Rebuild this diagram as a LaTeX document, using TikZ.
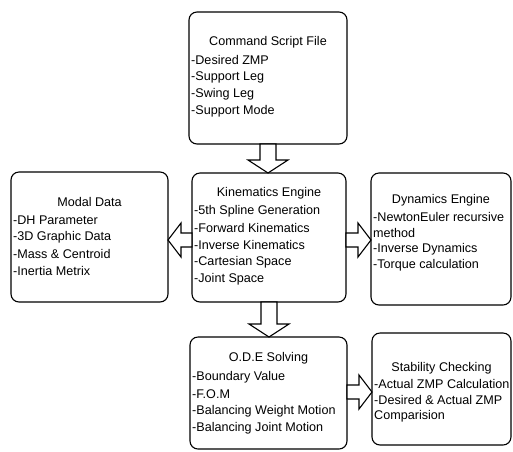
\documentclass[tikz,border=0pt]{standalone}
\usepackage{fontspec}
\setmainfont{Liberation Sans}
\usetikzlibrary{calc}
\begin{document}
\begin{tikzpicture}[x=1pt,y=-1pt,
  box/.style={draw, rounded corners=8pt, line width=1.1pt, inner sep=0pt, outer sep=0pt, anchor=north west},
  ttl/.style={font=\fontsize{12.6}{15}\selectfont, inner sep=0pt, anchor=center},
  itm/.style={font=\fontsize{12.6}{15}\selectfont, inner sep=0pt, anchor=west},
  blk/.style={draw, fill=white, line width=1.1pt, line join=miter}]
\useasboundingbox (0,0) rectangle (513,451);
% boxes
\node[box, minimum width=158pt, minimum height=132pt] (top) at (189,12) {};
\node[box, minimum width=157pt, minimum height=130pt] (model) at (11,172) {};
\node[box, minimum width=154pt, minimum height=129pt] (kin) at (192,173) {};
\node[box, minimum width=140pt, minimum height=132pt] (dyn) at (371,173) {};
\node[box, minimum width=157pt, minimum height=112pt] (ode) at (190,337) {};
\node[box, minimum width=139pt, minimum height=112pt] (stab) at (372,333) {};
% top texts
\node[ttl] (topt) at ($(top.north)+(0,30)$) {Command Script File};
\node[itm] (top1) at (191,60) {-Desired ZMP};
\node[itm] (top2) at (191,77) {-Support Leg};
\node[itm] (top3) at (191,94) {-Swing Leg};
\node[itm] (top4) at (191,111) {-Support Mode};
% model texts
\node[ttl] (modelt) at ($(model.north)+(0,30)$) {Modal Data};
\node[itm] (model1) at (13,220) {-DH Parameter};
\node[itm] (model2) at (13,237) {-3D Graphic Data};
\node[itm] (model3) at (13,254) {-Mass \& Centroid};
\node[itm] (model4) at (13,271) {-Inertia Metrix};
% kinematics texts
\node[ttl] (kint) at ($(kin.north)+(0,20)$) {Kinematics Engine};
\node[itm] (kin1) at (194,211) {-5th Spline Generation};
\node[itm] (kin2) at (194,228) {-Forward Kinematics};
\node[itm] (kin3) at (194,245) {-Inverse Kinematics};
\node[itm] (kin4) at (194,262) {-Cartesian Space};
\node[itm] (kin5) at (194,279) {-Joint Space};
% dynamics texts
\node[ttl] (dynt) at ($(dyn.north)+(0,27)$) {Dynamics Engine};
\node[itm] (dyn1) at (373,217) {-NewtonEuler recursive};
\node[itm] (dyn2) at (373,233) {method};
\node[itm] (dyn3) at (373,249) {-Inverse Dynamics};
\node[itm] (dyn4) at (373,265) {-Torque calculation};
% ode texts
\node[ttl] (odet) at ($(ode.north)+(0,21)$) {O.D.E Solving};
\node[itm] (ode1) at (192,377) {-Boundary Value};
\node[itm] (ode2) at (192,394) {-F.O.M};
\node[itm] (ode3) at (192,411) {-Balancing Weight Motion};
\node[itm] (ode4) at (192,428) {-Balancing Joint Motion};
% stability texts
\node[ttl] (stabt) at ($(stab.north)+(0,35)$) {Stability Checking};
\node[itm] (stab1) at (374,384) {-Actual ZMP Calculation};
\node[itm] (stab2) at (374,400) {-Desired \& Actual ZMP};
\node[itm] (stab3) at (374,416) {Comparision};
% block arrows
\coordinate (d1a) at (top.south);
\coordinate (d1b) at (top.south |- kin.north);
\draw[blk] ($(d1a)+(-8,0)$) -- ($(d1a)+(8,0)$) -- ($(d1b)+(8,-13)$) -- ($(d1b)+(20,-13)$) -- (d1b) -- ($(d1b)+(-20,-13)$) -- ($(d1b)+(-8,-13)$) -- cycle;
\coordinate (d2a) at (kin.south);
\coordinate (d2b) at (kin.south |- ode.north);
\draw[blk] ($(d2a)+(-8,0)$) -- ($(d2a)+(8,0)$) -- ($(d2b)+(8,-13)$) -- ($(d2b)+(20,-13)$) -- (d2b) -- ($(d2b)+(-20,-13)$) -- ($(d2b)+(-8,-13)$) -- cycle;
\coordinate (yl) at (0,240);
\coordinate (l1) at (kin.west |- yl);
\coordinate (l2) at (model.east |- yl);
\draw[blk] ($(l1)+(0,-7)$) -- ($(l2)+(13,-7)$) -- ($(l2)+(13,-17)$) -- (l2) -- ($(l2)+(13,17)$) -- ($(l2)+(13,7)$) -- ($(l1)+(0,7)$) -- cycle;
\coordinate (r1) at (kin.east |- yl);
\coordinate (r2) at (dyn.west |- yl);
\draw[blk] ($(r1)+(0,-7)$) -- ($(r2)+(-13,-7)$) -- ($(r2)+(-13,-17)$) -- (r2) -- ($(r2)+(-13,17)$) -- ($(r2)+(-13,7)$) -- ($(r1)+(0,7)$) -- cycle;
\coordinate (yb) at (0,392);
\coordinate (b1) at (ode.east |- yb);
\coordinate (b2) at (stab.west |- yb);
\draw[blk] ($(b1)+(0,-7)$) -- ($(b2)+(-13,-7)$) -- ($(b2)+(-13,-17)$) -- (b2) -- ($(b2)+(-13,17)$) -- ($(b2)+(-13,7)$) -- ($(b1)+(0,7)$) -- cycle;
\end{tikzpicture}
\end{document}
